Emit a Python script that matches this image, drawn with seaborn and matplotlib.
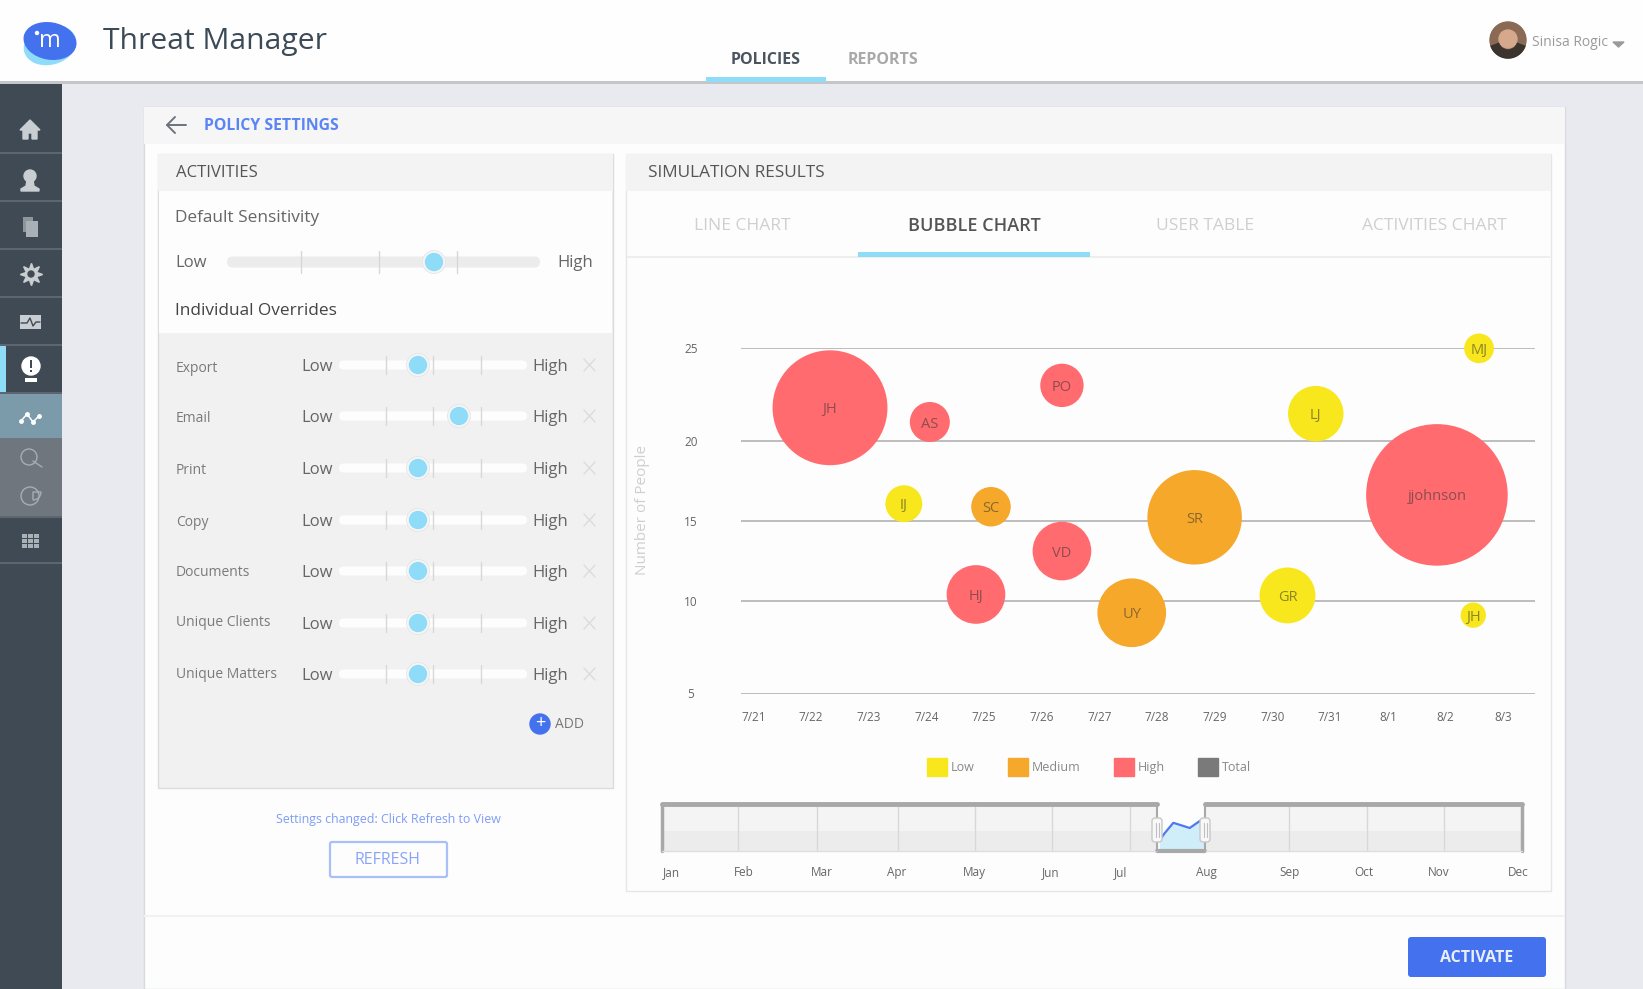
import numpy as np
import pandas as pd
import matplotlib
matplotlib.use('Agg')
import matplotlib.pyplot as plt
import seaborn as sns
from matplotlib.patches import Rectangle, Circle, Ellipse, FancyBboxPatch, Patch, Polygon, Wedge

# bubble chart data
bubble_labels = ['JH', 'AS', 'PO', 'LJ', 'MJ', 'IJ', 'SC', 'VD', 'SR', 'jjohnson', 'HJ', 'UY', 'GR', 'JH']
bubble_day = [1.33, 3.06, 5.35, 9.75, 12.58, 2.61, 4.12, 5.35, 7.65, 11.85, 3.86, 6.56, 9.26, 12.48]
bubble_people = [21.77, 21.0, 22.98, 21.45, 24.98, 16.05, 15.86, 13.1, 15.2, 16.6, 10.4, 9.36, 10.34, 9.23]
bubble_value = [330, 40, 47, 77, 22, 34, 39, 86, 223, 501, 86, 118, 78, 16]
bubble_level = ['High', 'High', 'High', 'Low', 'Low', 'Low', 'Medium', 'High', 'Medium', 'High',
                'High', 'Medium', 'Low', 'Low']
day_labels = ['7/21', '7/22', '7/23', '7/24', '7/25', '7/26', '7/27', '7/28', '7/29', '7/30',
              '7/31', '8/1', '8/2', '8/3']
people_ticks = [5, 10, 15, 20, 25]
people_pos = [0, 92.6, 173, 253, 345.5]  # the axis is not evenly spaced

# range navigator
month_labels = ['Jan', 'Feb', 'Mar', 'Apr', 'May', 'Jun', 'Jul', 'Aug', 'Sep', 'Oct', 'Nov', 'Dec']
month_ticks = [0.12, 1.04, 2.04, 3.0, 4.0, 4.97, 5.87, 6.97, 8.02, 8.98, 9.93, 10.95]
month_grid = [0.97, 1.98, 3.02, 4.0, 4.99, 5.99, 8.02, 9.02, 10.0]
nav_x = [6.36, 6.43, 6.54, 6.75, 6.88, 6.95]
nav_y = [0.22, 0.38, 0.60, 0.49, 0.64, 0.68]
sel_start, sel_end = 6.33, 6.95

# side panel
override_names = ['Export', 'Email', 'Print', 'Copy', 'Documents', 'Unique Clients', 'Unique Matters']
override_knob = [418, 459, 418, 418, 418, 418, 418]
override_y = [365, 416, 468, 520, 571, 623, 674]
override_name_y = [366, 417, 468, 521, 570, 621, 673]
tab_names = ['LINE CHART', 'BUBBLE CHART', 'USER TABLE', 'ACTIVITIES CHART']
tab_x = [742, 974, 1205, 1434]

level_colors = {'Low': '#f8e71c', 'Medium': '#f5a82a', 'High': '#ff6b6e'}
BLUE = '#4472ee'
SKY = '#8fdcf9'
W, H = 1643, 989

sns.set_theme(style='white')
plt.rcParams['font.family'] = ['Open Sans', 'DejaVu Sans']

fig = plt.figure(figsize=(W / 100, H / 100), dpi=100, facecolor='#e9eaf0')


def px_axes(left, top, right, bottom):
    return fig.add_axes([left / W, 1 - bottom / H, (right - left) / W, (bottom - top) / H])


ui = fig.add_axes([0, 0, 1, 1])
ui.set_xlim(0, W)
ui.set_ylim(H, 0)
ui.axis('off')


def box(x0, y0, x1, y1, color, **kw):
    ui.add_patch(Rectangle((x0, y0), x1 - x0, y1 - y0, facecolor=color, edgecolor=kw.pop('ec', 'none'),
                           linewidth=kw.pop('lw', 0), **kw))


def label(x, y, s, size=11, color='#555555', ha='left', **kw):
    # Open Sans sits a little high with va=center
    ui.text(x, y + 2, s, fontsize=size, color=color, ha=ha, va='center', **kw)


# header
box(0, 0, W, 82, '#fefefe')
box(0, 81, W, 84, '#c4c6ca')
ui.add_patch(Ellipse((50, 45), 52, 38, angle=-15, color='#8fdcf9'))
ui.add_patch(Ellipse((50, 41), 52, 36, angle=10, color=BLUE))
label(50, 39, 'm', 17, 'white', ha='center')
ui.add_patch(Circle((37, 33), 1.5, color='white'))
label(103, 39, 'Threat Manager', 21.6, '#3c4a56')
label(766, 58, 'POLICIES', 11.5, '#4b5560', ha='center', fontweight='bold')
label(883, 58, 'REPORTS', 11.5, '#a9a9a9', ha='center', fontweight='bold')
box(706, 77, 826, 82, SKY)
ui.add_patch(Circle((1508, 40), 18, color='#8a6a55'))
ui.add_patch(Circle((1508, 39), 9, color='#d6a88c'))
ui.add_patch(Wedge((1508, 40), 18, 20, 160, color='#3b332e', width=8))
label(1532, 41, 'Sinisa Rogic', 10, '#9a9a9a')
ui.add_patch(Polygon([[1613, 42], [1624, 42], [1618.5, 47]], color='#9a9a9a'))

# sidebar
box(0, 84, 62, H, '#3f4a54')
box(0, 393, 62, 438, '#7b9aaa')
box(0, 438, 62, 517, '#6f767e')
box(0, 345, 6, 393, SKY)
for y in [153, 201, 249, 297, 345, 393, 517, 563]:
    box(0, y - 1, 62, y + 1, '#5b6670')
ic = '#c9ced2'
ui.add_patch(Polygon([[30, 120], [20, 130], [23, 130], [23, 139], [28, 139], [28, 133], [32, 133], [32, 139],
                      [37, 139], [37, 130], [40, 130]], color=ic))
ui.add_patch(Circle((30, 176), 6, color=ic))
ui.add_patch(Polygon([[27, 180], [33, 180], [34, 186], [39, 189], [39, 191], [21, 191], [21, 189], [26, 186]], color=ic))
box(23, 217, 33, 232, '#8d969d')
box(26, 221, 38, 237, '#aab1b6')
ui.plot([31], [274], marker=(8, 1, 0), ms=16, color=ic)
ui.add_patch(Circle((31, 274), 3, color='#3f4a54', zorder=3))
box(20, 315, 41, 329, ic)
ui.plot([21, 27, 30, 33, 36, 40], [323, 323, 318, 326, 322, 322], color='#3f4a54', lw=1)
ui.add_patch(Circle((31, 366), 9, color='white'))
box(30, 360, 32, 368, '#3f4a54')
box(30, 370, 32, 372, '#3f4a54')
box(25, 378, 37, 382, 'white')
ui.plot([21, 27, 33, 39], [421, 414, 422, 416], color='white', lw=1.1, marker='o', ms=2.5)
ui.add_patch(Circle((29, 457), 8, fill=False, ec='#a7adb2', lw=1))
ui.plot([33, 42], [461, 467], color='#a7adb2', lw=1)
ui.add_patch(Circle((30, 496), 9, fill=False, ec='#a7adb2', lw=1))
ui.add_patch(Wedge((33, 492), 8, 0, 90, fill=False, ec='#a7adb2', lw=1))
for gx in range(22, 40, 6):
    for gy in range(534, 549, 5):
        box(gx, gy, gx + 5, gy + 4, '#aab1b6')

# card
box(144, 107, 1565, H, '#fdfdfd', ec='#d9dade', lw=1)
box(144, 107, 1565, 144, '#f6f6f6')
ui.plot([167, 186], [125, 125], color='#6b747c', lw=1.4)
ui.plot([175, 167, 175], [117, 125, 133], color='#6b747c', lw=1.4)
label(204, 124, 'POLICY SETTINGS', 11.3, '#5b84f5', fontweight='bold')
box(144, 915, 1565, 917, '#f1f1f1')

# activities panel
box(158, 154, 613, 788, '#f1f1f1', ec='#dcdcdc', lw=1)
box(158, 154, 613, 191, '#f3f3f3')
box(159, 191, 612, 333, '#fdfdfd')
label(176, 171, 'ACTIVITIES', 12.1, '#555555')
label(175, 216, 'Default Sensitivity', 12.4, '#666666')
label(175, 261, 'Low', 12, '#666666')
label(557, 261, 'High', 12, '#666666')
label(175, 309, 'Individual Overrides', 12.4, '#444444')


def slider(x0, x1, y, h, track, ticks, knob, r):
    ui.add_patch(FancyBboxPatch((x0, y - h / 2), x1 - x0, h, boxstyle='round,pad=0,rounding_size=%f' % (h / 2),
                                facecolor=track, edgecolor='none', zorder=2))
    for t in ticks:
        ui.plot([t, t], [y - h, y + h], color='#d8d8d8', lw=1, zorder=3)
    ui.add_patch(Circle((knob, y), r + 3, color='#f6f6f6', ec='#e2e2e2', lw=0.5, zorder=4))
    ui.add_patch(Circle((knob, y), r, color=SKY, zorder=5))


slider(227, 540, 262, 11, '#ececec', [301, 379, 457], 434, 8.5)
for name, knob, y, name_y in zip(override_names, override_knob, override_y, override_name_y):
    label(176, name_y, name, 10, '#7a7a7a')
    label(301, y, 'Low', 12, '#666666')
    label(532, y, 'High', 12, '#666666')
    slider(339, 527, y, 9, '#fdfdfd', [386, 433, 481], knob, 8.5)
    ui.plot([584, 595], [y - 6, y + 6], color='#dcdcdc', lw=1)
    ui.plot([584, 595], [y + 6, y - 6], color='#dcdcdc', lw=1)
ui.add_patch(Circle((540, 724), 10, color=BLUE))
label(540, 721, '+', 13, 'white', ha='center')
label(555, 723, 'ADD', 10, '#777777')
label(388, 817, 'Settings changed: Click Refresh to View', 8.9, '#7f9df5', ha='center')
ui.add_patch(FancyBboxPatch((330, 842), 117, 35, boxstyle='round,pad=0,rounding_size=2', facecolor='#fdfdfd',
                            edgecolor='#a9bff8', linewidth=1.6))
label(388, 858, 'REFRESH', 11.5, '#88a5f5', ha='center')
ui.add_patch(FancyBboxPatch((1408, 937), 138, 40, boxstyle='round,pad=0,rounding_size=3', facecolor=BLUE, edgecolor='none'))
label(1477, 956, 'ACTIVATE', 11.5, '#e8eefe', ha='center', fontweight='bold')

# simulation panel
box(626, 154, 1551, 891, '#fdfdfd', ec='#e6e6e6', lw=1)
box(626, 154, 1551, 191, '#f3f3f3')
label(648, 171, 'SIMULATION RESULTS', 12.4, '#555555')
for name, x in zip(tab_names, tab_x):
    active = name == 'BUBBLE CHART'
    label(x, 224, name, 13 if active else 12.5, '#555555' if active else '#cfcfcf', ha='center',
          fontweight='semibold' if active else 'normal')
box(627, 256, 1550, 258, '#eeeeee')
box(858, 252, 1090, 257, SKY)

# bubble chart
bubbles = pd.DataFrame({'day': bubble_day, 'people': bubble_people, 'value': bubble_value,
                        'level': bubble_level, 'name': bubble_labels})
ax = px_axes(741, 348, 1535, 693.5)
ax.patch.set_alpha(0)
ax.set_yscale('function', functions=(lambda v: np.interp(v, people_ticks, people_pos),
                                     lambda p: np.interp(p, people_pos, people_ticks)))
ax.set_axisbelow(True)
sns.scatterplot(data=bubbles, x='day', y='people', hue='level', palette=level_colors, size='value',
                sizes=(0, 20.736 * 600), size_norm=(0, 600), linewidth=0, alpha=1, clip_on=False,
                legend=False, ax=ax, zorder=3)
for _, row in bubbles.iterrows():
    ax.text(row['day'], row['people'], row['name'], ha='center', va='center_baseline', fontsize=10.5, color='#333333',
            alpha=0.55, zorder=4)
ax.set_xlim(-0.213, 13.55)
ax.set_ylim(5, 25)
ax.set_xticks(range(len(day_labels)), day_labels)
ax.set_yticks(people_ticks, [str(t) for t in people_ticks])
ax.yaxis.grid(True, color='#bdbdbd', lw=1.4)
ax.xaxis.grid(False)
sns.despine(ax=ax, left=True, bottom=True)
ax.tick_params(axis='x', length=0, pad=12.5, labelsize=8.5, labelcolor='#666666')
ax.tick_params(axis='y', length=0, pad=36, labelsize=8.5, labelcolor='#666666')
for t in ax.get_yticklabels():
    t.set_ha('center')
ax.set_xlabel('')
ax.set_ylabel('')
fig.text(643 / W, 1 - 510 / H, 'Number of People', rotation=90, ha='center', va='center', fontsize=11, color='#cfcfcf')
handles = [Patch(color=level_colors[k], label=k) for k in ['Low', 'Medium', 'High']] + [Patch(color='#7a7a7a', label='Total')]
leg = fig.legend(handles=handles, ncol=4, frameon=False, loc='center', bbox_to_anchor=(1089 / W, 1 - 767 / H),
                 handlelength=1.6, handleheight=1.9, handletextpad=0.3, columnspacing=2.65, fontsize=9, borderpad=0)
for t in leg.get_texts():
    t.set_color('#888888')

# range navigator
nav = px_axes(662, 804, 1522, 851)
nav.set_facecolor('#f4f4f4')
nav.axhspan(0, 0.43, color='#ececec', lw=0, zorder=0)
nav.axvspan(sel_start, sel_end, color='#fdfdfd', lw=0, zorder=1)
nav.fill_between(nav_x, nav_y, 0, color='#d0eefa', lw=0, zorder=1.5)
sns.lineplot(x=nav_x, y=nav_y, color='#4f78ee', lw=1.6, ax=nav, zorder=2)
nav.set_xlim(0, 11)
nav.set_ylim(0, 1)
nav.set_xticks(month_ticks, month_labels)
nav.tick_params(axis='x', length=0, pad=18, labelsize=8.5, labelcolor='#666666')
for t in nav.get_xticklabels():
    t.set_va('baseline')
nav.set_yticks([])
for g in month_grid:
    nav.axvline(g, color='#d8d8d8', lw=1, zorder=1)
for s in nav.spines.values():
    s.set_visible(False)
gray = '#a8a8a8'
nav.plot([0, sel_start], [1, 1], color=gray, lw=3.5, clip_on=False, zorder=3)
nav.plot([sel_end, 11], [1, 1], color=gray, lw=3.5, clip_on=False, zorder=3)
nav.plot([0, 0], [0, 1], color=gray, lw=2.5, clip_on=False)
nav.plot([11, 11], [0, 1], color=gray, lw=2.5, clip_on=False)
nav.plot([sel_start, sel_end], [0, 0], color=gray, lw=3, clip_on=False)
nav.plot([0, sel_start], [0, 0], color='#dedede', lw=1, clip_on=False)
nav.plot([sel_end, 11], [0, 0], color='#dedede', lw=1, clip_on=False)
nav.plot([sel_start, sel_start], [0, 1], color=gray, lw=1.5, clip_on=False)
nav.plot([sel_end, sel_end], [0, 1], color=gray, lw=1.5, clip_on=False)
top = fig.add_axes([0, 0, 1, 1])
top.set_xlim(0, W)
top.set_ylim(H, 0)
top.axis('off')
for hx in [1157, 1205]:
    top.add_patch(FancyBboxPatch((hx - 5, 818), 10, 24, boxstyle='round,pad=0,rounding_size=3', facecolor='#f8f8f8',
                                 edgecolor='#c8c8c8', linewidth=1))
    top.plot([hx - 1.5, hx - 1.5], [823, 837], color='#c0c0c0', lw=0.8)
    top.plot([hx + 1.5, hx + 1.5], [823, 837], color='#c0c0c0', lw=0.8)

fig.savefig('out.png', dpi=100, facecolor=fig.get_facecolor())
